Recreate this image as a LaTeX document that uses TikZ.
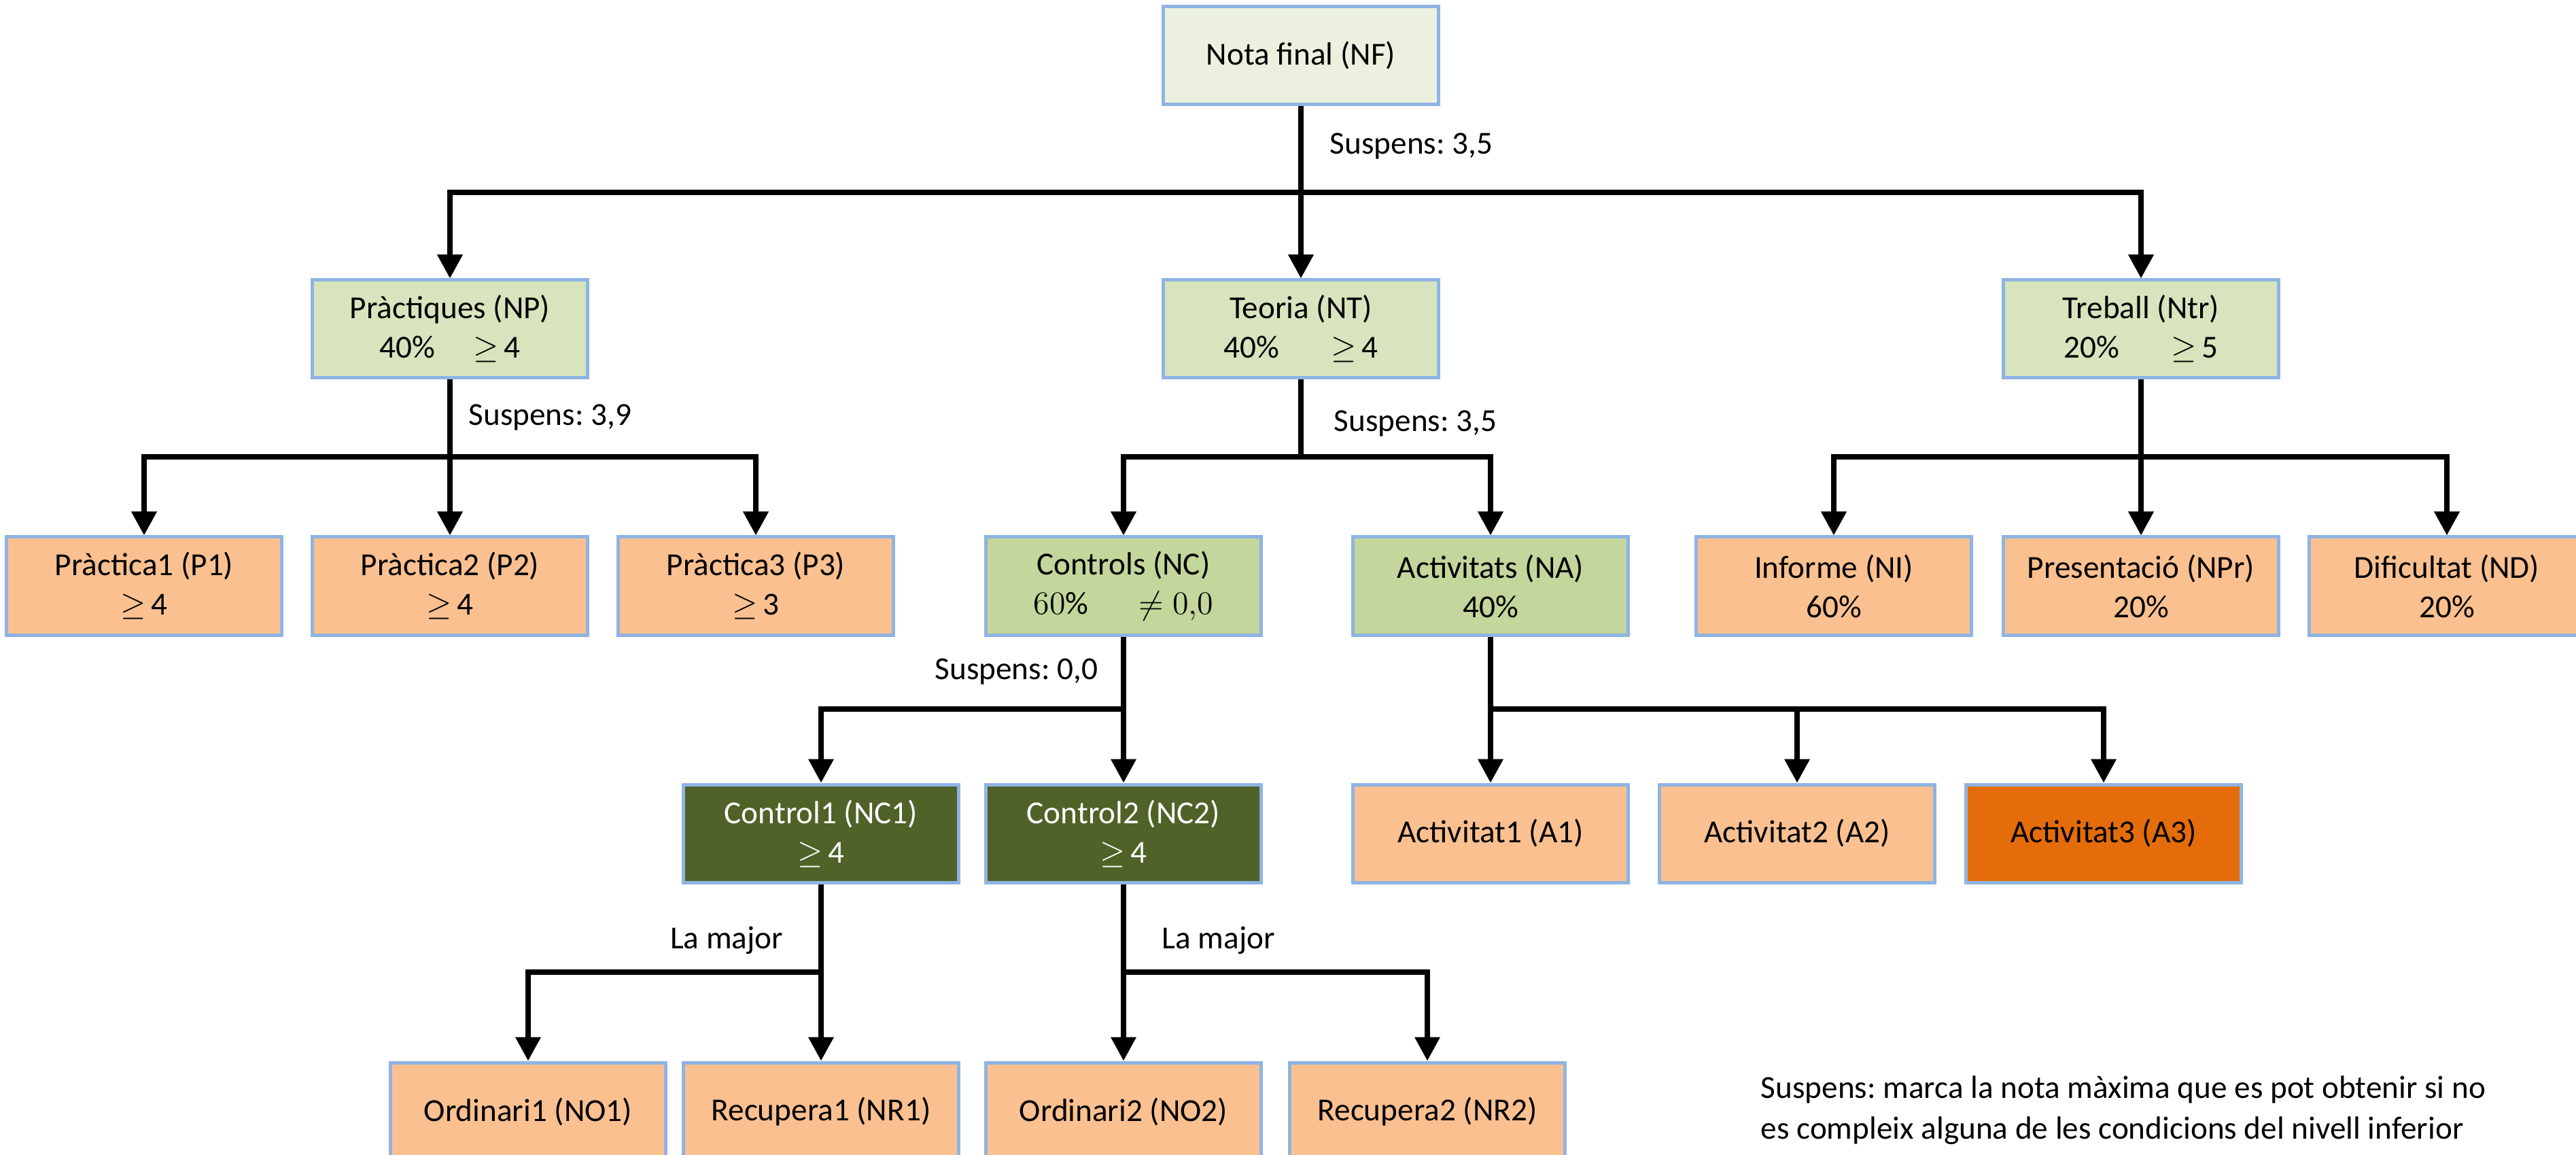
\documentclass[tikz,border=0pt]{standalone}
\usepackage{fontspec}
\setmainfont{Carlito}
\usetikzlibrary{arrows.meta}
\frenchspacing

\definecolor{edgeblue}{HTML}{8EB4E3}
\definecolor{nffill}{HTML}{EBF1DE}
\definecolor{upfill}{HTML}{D7E4BD}
\definecolor{midfill}{HTML}{C3D69B}
\definecolor{leaffill}{HTML}{FAC090}
\definecolor{darkfill}{HTML}{4F6228}
\definecolor{hotfill}{HTML}{E46C0A}

\begin{document}
\frenchspacing
\begin{tikzpicture}
[every node/.style={inner sep=0pt, font=\fontsize{11.8pt}{14.5pt}\selectfont},
 box/.style={rectangle, minimum width=101.25pt, minimum height=36pt, line width=1.25pt, draw=edgeblue, align=center},
 rootbox/.style={box, fill=nffill},
 upbox/.style={box, fill=upfill},
 midbox/.style={box, fill=midfill},
 leafbox/.style={box, fill=leaffill},
 darkbox/.style={box, fill=darkfill, text=white},
 hotbox/.style={box, fill=hotfill},
 bar/.style={line width=1.8pt, color=black},
 link/.style={bar, -{Triangle[length=8.75pt, width=9pt]}}]
\useasboundingbox (0pt, 0pt) rectangle (947.5pt, -424.75pt);
% boxes
\node (NF) [rootbox] at (478.5pt, -20.5pt) {Nota final (NF)};
\node (NP) [upbox] at (165.5pt, -121pt) {Pràctiques (NP)\\40\%\hspace{1.2em}$\geq$\,4};
\node (NT) [upbox] at (478.5pt, -121pt) {Teoria (NT)\\40\%\hspace{1.6em}$\geq$\,4};
\node (NTr) [upbox] at (787.5pt, -121pt) {Treball (Ntr)\\20\%\hspace{1.6em}$\geq$\,5};
\node (P1) [leafbox] at (53pt, -215.5pt) {Pràctica1 (P1)\\$\geq$\,4};
\node (P2) [leafbox] at (165.5pt, -215.5pt) {Pràctica2 (P2)\\$\geq$\,4};
\node (P3) [leafbox] at (278pt, -215.5pt) {Pràctica3 (P3)\\$\geq$\,3};
\node (NC) [midbox] at (413.25pt, -215.5pt) {Controls (NC)\\$60\%\quad\;\neq 0{,}0$};
\node (NA) [midbox] at (548.25pt, -215.5pt) {Activitats (NA)\\40\%};
\node (NI) [leafbox] at (674.5pt, -215.5pt) {Informe (NI)\\60\%};
\node (NPr) [leafbox] at (787.5pt, -215.5pt) {Presentació (NPr)\\20\%};
\node (ND) [leafbox] at (900pt, -215.5pt) {Dificultat (ND)\\20\%};
\node (NC1) [darkbox] at (302pt, -306.5pt) {Control1 (NC1)\\$\geq$\,4};
\node (NC2) [darkbox] at (413.25pt, -306.5pt) {Control2 (NC2)\\$\geq$\,4};
\node (A1) [leafbox] at (548.25pt, -306.5pt) {Activitat1 (A1)};
\node (A2) [leafbox] at (661pt, -306.5pt) {Activitat2 (A2)};
\node (A3) [hotbox] at (773.75pt, -306.5pt) {Activitat3 (A3)};
\node (NO1) [leafbox] at (194.25pt, -408.75pt) {Ordinari1 (NO1)};
\node (NR1) [leafbox] at (302pt, -408.75pt) {Recupera1 (NR1)};
\node (NO2) [leafbox] at (413.25pt, -408.75pt) {Ordinari2 (NO2)};
\node (NR2) [leafbox] at (525pt, -408.75pt) {Recupera2 (NR2)};
% junctions
\coordinate (jNF) at (478.5pt, -70.75pt);
\coordinate (jNP) at (165.5pt, -168pt);
\coordinate (jNT) at (478.5pt, -168pt);
\coordinate (jNTr) at (787.5pt, -168pt);
\coordinate (jNC) at (413.25pt, -260.75pt);
\coordinate (jNA) at (548.25pt, -260.75pt);
\coordinate (jNC1) at (302pt, -357.5pt);
\coordinate (jNC2) at (413.25pt, -357.5pt);
% connectors
\draw [link] (NF) to (NT);
\draw [link] (jNF) -| (NP);
\draw [link] (jNF) -| (NTr);
\draw [bar] (NP) to (jNP);
\draw [link] (jNP) -| (P1);
\draw [link] (jNP) to (P2);
\draw [link] (jNP) -| (P3);
\draw [bar] (NT) to (jNT);
\draw [link] (jNT) -| (NC);
\draw [link] (jNT) -| (NA);
\draw [bar] (NTr) to (jNTr);
\draw [link] (jNTr) -| (NI);
\draw [link] (jNTr) to (NPr);
\draw [link] (jNTr) -| (ND);
\draw [link] (NC) to (NC2);
\draw [link] (jNC) -| (NC1);
\draw [link] (NA) to (A1);
\draw [link] (jNA) -| (A2);
\draw [link] (jNA) -| (A3);
\draw [link] (NC1) to (NR1);
\draw [link] (jNC1) -| (NO1);
\draw [link] (NC2) to (NO2);
\draw [link] (jNC2) -| (NR2);
% labels
\node (sNF) [anchor=west] at (489pt, -53.75pt) {Suspens: 3,5};
\node (sNP) [anchor=west] at (172.25pt, -153.5pt) {Suspens: 3,9};
\node (sNT) [anchor=west] at (490.5pt, -155.75pt) {Suspens: 3,5};
\node (sNC) [anchor=east] at (404pt, -247pt) {Suspens: 0,0};
\node (mNC1) [anchor=east] at (288.25pt, -345.75pt) {La major};
\node (mNC2) [anchor=west] at (427.25pt, -345.75pt) {La major};
\node (note) [anchor=west, align=left, font=\fontsize{11.8pt}{15pt}\selectfont] at (647.5pt, -408.25pt) {Suspens: marca la nota màxima que es pot obtenir si no\\es compleix alguna de les condicions del nivell inferior};
\end{tikzpicture}
\end{document}
